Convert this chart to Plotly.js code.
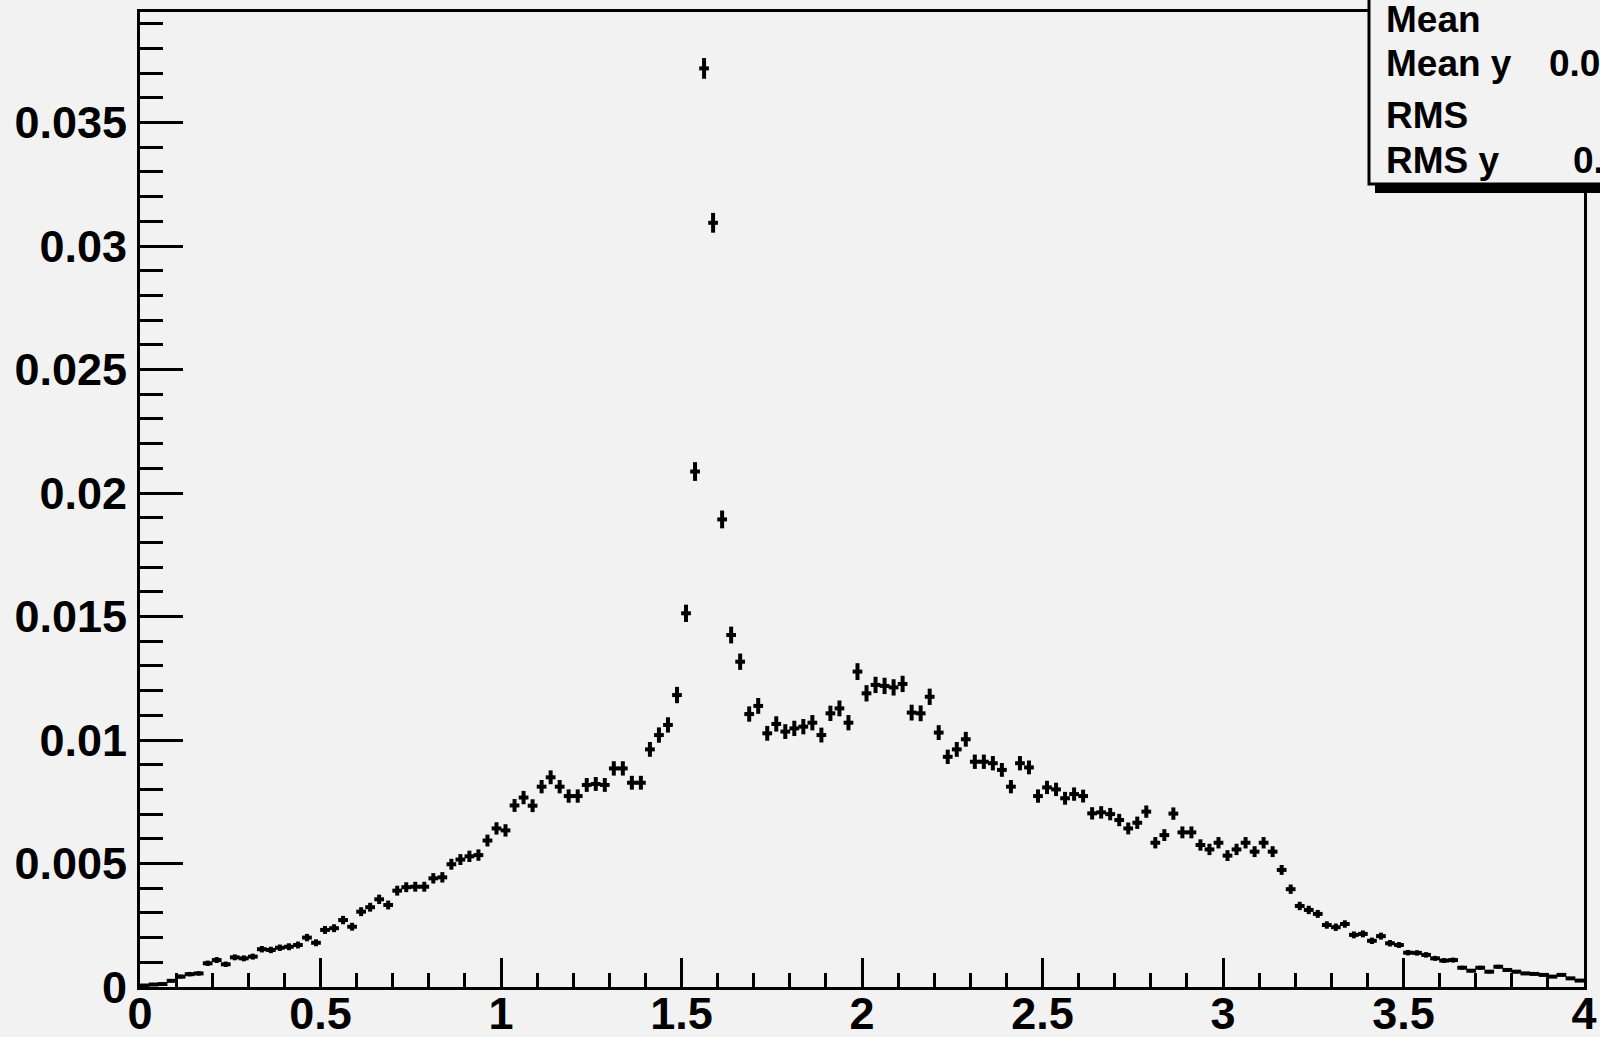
<!DOCTYPE html>
<html>
<head>
<meta charset="utf-8">
<script src="https://cdn.plot.ly/plotly-3.0.1.min.js"></script>
<style>
  html, body { margin: 0; padding: 0; background: #f2f2f2; }
  #chart { width: 1600px; height: 1037px; }
</style>
</head>
<body>
<div id="chart"></div>
<script>
// Histogram definition: 160 bins from 0 to 4
const binStart = 0.0125;   // centre of first bin
const binWidth = 0.025;

// Bin contents
const yVals = [
  0.00006, 0.00010, 0.00012, 0.00025, 0.00042, 0.00052, 0.00055, 0.00096, 0.00109, 0.00092,
  0.00120, 0.00116, 0.00123, 0.00153, 0.00150, 0.00159, 0.00163, 0.00170, 0.00200, 0.00179,
  0.00231, 0.00238, 0.00271, 0.00244, 0.00305, 0.00323, 0.00355, 0.00332, 0.00390, 0.00404,
  0.00406, 0.00406, 0.00440, 0.00444, 0.00497, 0.00516, 0.00529, 0.00534, 0.00593, 0.00642,
  0.00634, 0.00735, 0.00767, 0.00734, 0.00811, 0.00849, 0.00811, 0.00773, 0.00773, 0.00818,
  0.00822, 0.00818, 0.00885, 0.00885, 0.00827, 0.00827, 0.00962, 0.01020, 0.01061, 0.01182,
  0.01513, 0.02087, 0.03719, 0.03094, 0.01893, 0.01425, 0.01317, 0.01105, 0.01138, 0.01027,
  0.01065, 0.01034, 0.01047, 0.01054, 0.01070, 0.01020, 0.01108, 0.01128, 0.01070, 0.01277,
  0.01189, 0.01223, 0.01219, 0.01213, 0.01227, 0.01111, 0.01108, 0.01175, 0.01030, 0.00932,
  0.00962, 0.01003, 0.00912, 0.00912, 0.00906, 0.00879, 0.00811, 0.00906, 0.00889, 0.00773,
  0.00808, 0.00800, 0.00764, 0.00781, 0.00773, 0.00703, 0.00707, 0.00700, 0.00676, 0.00642,
  0.00665, 0.00710, 0.00584, 0.00615, 0.00702, 0.00626, 0.00626, 0.00575, 0.00557, 0.00584,
  0.00532, 0.00557, 0.00584, 0.00548, 0.00584, 0.00548, 0.00474, 0.00396, 0.00328, 0.00312,
  0.00296, 0.00251, 0.00242, 0.00255, 0.00211, 0.00215, 0.00187, 0.00206, 0.00177, 0.00170,
  0.00139, 0.00138, 0.00130, 0.00116, 0.00107, 0.00109, 0.00078, 0.00066, 0.00078, 0.00062,
  0.00082, 0.00069, 0.00062, 0.00055, 0.00053, 0.00049, 0.00042, 0.00049, 0.00035, 0.00026
];

// Vertical error half-lengths
const yErr = [
  0.00003, 0.00004, 0.00004, 0.00006, 0.00008, 0.00009, 0.00009,
  0.00011, 0.00012, 0.00011, 0.00012, 0.00012, 0.00012, 0.00013,
  0.00013, 0.00013, 0.00014, 0.00014, 0.00015, 0.00014, 0.00016,
  0.00016, 0.00017, 0.00016, 0.00018, 0.00018, 0.00019, 0.00018,
  0.00020, 0.00020, 0.00020, 0.00020, 0.00021, 0.00021, 0.00022, 0.00022, 0.00023, 0.00023,
  0.00024, 0.00025, 0.00025, 0.00026, 0.00027, 0.00026, 0.00027, 0.00028, 0.00027, 0.00027,
  0.00027, 0.00028, 0.00028, 0.00028, 0.00029, 0.00029, 0.00028, 0.00028, 0.00030, 0.00031, 0.00031, 0.00033,
  0.00035, 0.00038, 0.00042, 0.00040, 0.00036, 0.00034, 0.00033,
  0.00031, 0.00032, 0.00030, 0.00031, 0.00030, 0.00031, 0.00031, 0.00031, 0.00030, 0.00031, 0.00032, 0.00031,
  0.00034, 0.00033, 0.00033, 0.00033, 0.00033, 0.00033, 0.00032, 0.00032, 0.00033, 0.00030, 0.00029, 0.00030,
  0.00030, 0.00029, 0.00029, 0.00029, 0.00028, 0.00027, 0.00029, 0.00028, 0.00027, 0.00027, 0.00027, 0.00026, 0.00027, 0.00026,
  0.00025, 0.00025, 0.00025, 0.00025, 0.00024, 0.00025, 0.00025, 0.00023, 0.00024, 0.00025, 0.00024,
  0.00024, 0.00023, 0.00023, 0.00023, 0.00022, 0.00023, 0.00023, 0.00022, 0.00023, 0.00022,
  0.00020, 0.00019, 0.00017, 0.00017, 0.00016, 0.00015, 0.00015, 0.00015, 0.00014, 0.00014,
  0.00013, 0.00014, 0.00013, 0.00012, 0.00011,
  0.00011, 0.00011, 0.00010, 0.00010, 0.00010, 0.00008, 0.00007, 0.00008, 0.00007, 0.00008,
  0.00007, 0.00007, 0.00006, 0.00006, 0.00006, 0.00005, 0.00006, 0.00005, 0.00004
];

// Stats box labels (partially visible, cut at the right edge)
const statLabels = ["Mean", "Mean y", "RMS", "RMS y"];
const statValues = ["", "0.0", "", "0."];

// ---- layout geometry (pixels) ----
const W = 1600, H = 1037;
const L = 140, R = 1584, T = 12, B = 987;
const px = p => (p - L) / (R - L);
const py = p => (B - p) / (B - T);

const FONT = "Liberation Sans, Arial, Helvetica, sans-serif";
const BG = "#f2f2f2";

const trace = {
  type: "scatter",
  mode: "markers",
  x0: binStart,
  dx: binWidth,
  y: yVals,
  marker: { size: 2, color: "black" },
  error_x: { type: "constant", value: 0.0135, width: 0, thickness: 4, color: "black" },
  error_y: { type: "data", array: yErr, width: 0, thickness: 4, color: "black" },
  hoverinfo: "x+y"
};

const statRowsY = [19.5, 63.5, 115.5, 160];
const annotations = [];
statLabels.forEach((t, i) => {
  annotations.push({
    xref: "paper", yref: "paper", x: px(1384), y: py(statRowsY[i]),
    xanchor: "left", yanchor: "middle", showarrow: false, text: t,
    font: { family: FONT, size: 37, color: "black", weight: "bold" }
  });
});
const valueX = [0, 1547, 0, 1571];
statValues.forEach((t, i) => {
  if (!t) return;
  annotations.push({
    xref: "paper", yref: "paper", x: px(valueX[i]), y: py(statRowsY[i]),
    xanchor: "left", yanchor: "middle", showarrow: false, text: t,
    font: { family: FONT, size: 37, color: "black", weight: "bold" }
  });
});

const layout = {
  width: W, height: H,
  margin: { l: L, r: W - R, t: T, b: H - B, pad: 0 },
  paper_bgcolor: BG, plot_bgcolor: BG,
  showlegend: false,
  xaxis: {
    range: [0, 4], tick0: 0, dtick: 0.5,
    ticks: "inside", ticklen: 29, tickwidth: 3, tickcolor: "black",
    showline: true, linewidth: 3, linecolor: "black", mirror: true,
    showgrid: false, zeroline: false,
    tickfont: { family: FONT, size: 45, color: "black", weight: "bold" },
    ticklabelstandoff: -15,
    minor: { dtick: 0.1, ticks: "inside", ticklen: 14, tickwidth: 3, tickcolor: "black", showgrid: false }
  },
  yaxis: {
    range: [0, 0.039474], tick0: 0, dtick: 0.005,
    ticks: "inside", ticklen: 43, tickwidth: 3, tickcolor: "black",
    showline: true, linewidth: 3, linecolor: "black", mirror: true,
    showgrid: false, zeroline: false,
    tickfont: { family: FONT, size: 45, color: "black", weight: "bold" },
    ticklabelstandoff: 1,
    minor: { dtick: 0.001, ticks: "inside", ticklen: 23, tickwidth: 3, tickcolor: "black", showgrid: false }
  },
  shapes: [
    { type: "rect", xref: "paper", yref: "paper", layer: "above",
      x0: px(1375), x1: px(1650), y0: py(193), y1: py(-20),
      fillcolor: "black", line: { width: 0 } },
    { type: "rect", xref: "paper", yref: "paper", layer: "above",
      x0: px(1369), x1: px(1650), y0: py(184), y1: py(-20),
      fillcolor: BG, line: { color: "black", width: 3 } }
  ],
  annotations: annotations
};

Plotly.newPlot("chart", [trace], layout, { staticPlot: true, displayModeBar: false });
</script>
</body>
</html>
